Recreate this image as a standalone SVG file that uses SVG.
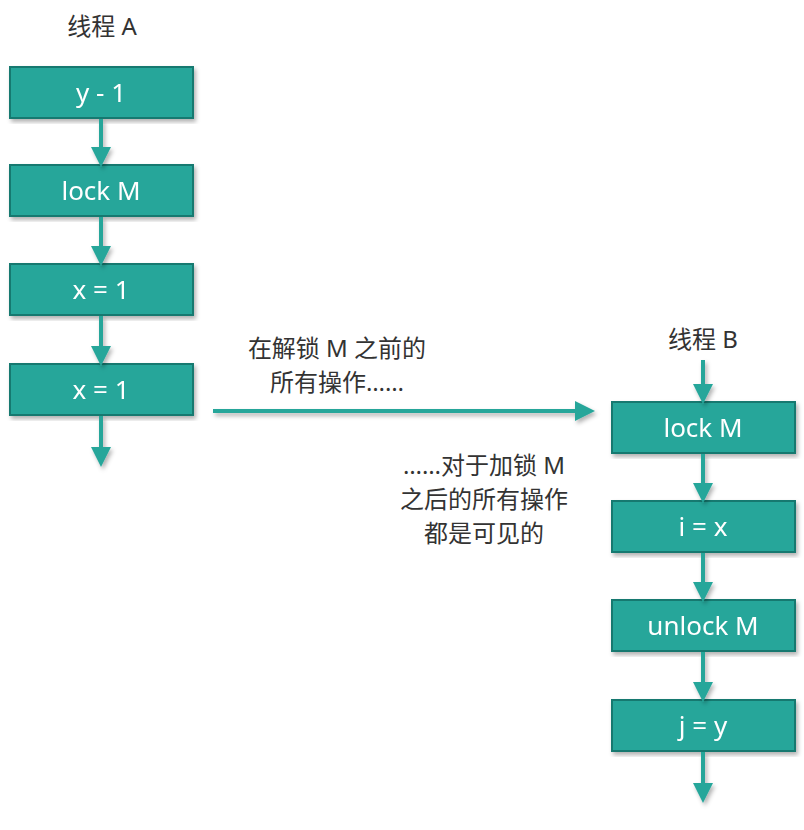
<svg xmlns="http://www.w3.org/2000/svg" width="804" height="830" viewBox="0 0 804 830">
<defs>
<style>
.box{fill:#26a69a;stroke:#17796f;stroke-width:2}
.bt{fill:#fff;font-family:"Noto Sans","Noto Sans CJK SC",sans-serif;font-size:26px;text-anchor:middle}
.lb{fill:#333;font-family:"Noto Sans","Noto Sans CJK SC",sans-serif;font-size:24px;text-anchor:middle}
.c{stroke:#26a69a;stroke-width:4;fill:none}
</style>
<marker id="ah" markerWidth="5" markerHeight="5" refX="4" refY="2.5" orient="auto" markerUnits="strokeWidth"><path d="M0,0L5,2.5L0,5z" fill="#26a69a"/></marker>
<filter id="sh"><feDropShadow dx="2" dy="3" stdDeviation="2" flood-opacity="0.3"/></filter>
</defs>
<text class="lb" x="102" y="35">线程 A</text>
<text class="lb" x="703" y="348">线程 B</text>
<g id="a1" filter="url(#sh)"><rect class="box" x="10" y="67" width="183" height="51"/><text class="bt" x="101" y="102">y - 1</text></g>
<g id="a2" filter="url(#sh)"><rect class="box" x="10" y="165" width="183" height="51"/><text class="bt" x="101" y="200">lock M</text></g>
<g id="a3" filter="url(#sh)"><rect class="box" x="10" y="264" width="183" height="51"/><text class="bt" x="101" y="299">x = 1</text></g>
<g id="a4" filter="url(#sh)"><rect class="box" x="10" y="364" width="183" height="51"/><text class="bt" x="101" y="399">x = 1</text></g>
<g id="b1" filter="url(#sh)"><rect class="box" x="612" y="402" width="183" height="51"/><text class="bt" x="703" y="437">lock M</text></g>
<g id="b2" filter="url(#sh)"><rect class="box" x="612" y="501" width="183" height="51"/><text class="bt" x="703" y="536">i = x</text></g>
<g id="b3" filter="url(#sh)"><rect class="box" x="612" y="600" width="183" height="51"/><text class="bt" x="703" y="635">unlock M</text></g>
<g id="b4" filter="url(#sh)"><rect class="box" x="612" y="700" width="183" height="51"/><text class="bt" x="703" y="735">j = y</text></g>
<g id="connectors" filter="url(#sh)">
<line class="c" x1="101" y1="119" x2="101" y2="163" marker-end="url(#ah)"/>
<line class="c" x1="101" y1="217" x2="101" y2="262" marker-end="url(#ah)"/>
<line class="c" x1="101" y1="316" x2="101" y2="362" marker-end="url(#ah)"/>
<line class="c" x1="101" y1="416" x2="101" y2="463" marker-end="url(#ah)"/>
<line class="c" x1="703" y1="360" x2="703" y2="400" marker-end="url(#ah)"/>
<line class="c" x1="703" y1="454" x2="703" y2="499" marker-end="url(#ah)"/>
<line class="c" x1="703" y1="553" x2="703" y2="598" marker-end="url(#ah)"/>
<line class="c" x1="703" y1="652" x2="703" y2="698" marker-end="url(#ah)"/>
<line class="c" x1="703" y1="752" x2="703" y2="799" marker-end="url(#ah)"/>
<line class="c" x1="213" y1="411" x2="591" y2="411" marker-end="url(#ah)"/>
</g>
<text class="lb" x="337" y="357">在解锁 M 之前的</text>
<text class="lb" x="337" y="391">所有操作……</text>
<text class="lb" x="484" y="474">……对于加锁 M</text>
<text class="lb" x="484" y="508">之后的所有操作</text>
<text class="lb" x="484" y="542">都是可见的</text>
</svg>
